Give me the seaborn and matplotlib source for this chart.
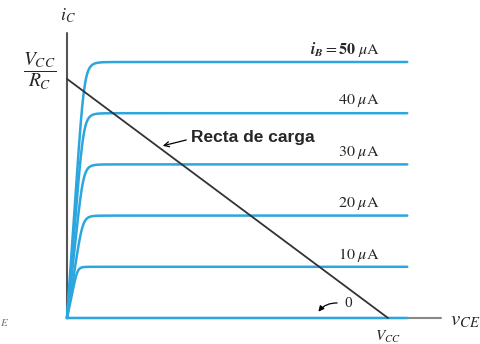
import numpy as np
import pandas as pd
import matplotlib
matplotlib.use("Agg")
import matplotlib.pyplot as plt
import seaborn as sns

# Base-current steps of the output family and their saturated collector currents
ib_uA = [0, 10, 20, 30, 40, 50]
ic_sat_mA = [0.0, 1.0, 2.0, 3.0, 4.0, 5.0]
knee_V = [0.30, 0.33, 0.50, 0.52, 0.53, 0.55]
curve_labels = ["", r"$10\ \mu\mathrm{A}$", r"$20\ \mu\mathrm{A}$", r"$30\ \mu\mathrm{A}$",
                r"$40\ \mu\mathrm{A}$", r"$\mathbfit{i}_{\mathbfit{B}} = \mathbf{50}\ \mu\mathrm{A}$"]

# Load line end points
vcc = 10.0
vcc_over_rc = 4.67
v_end = 10.6

sns.set_theme(style="white")
plt.rcParams["mathtext.fontset"] = "stix"
plt.rcParams["font.family"] = ["Liberation Serif", "DejaVu Serif"]

blue = "#2ba6de"
fig = plt.figure(figsize=(4.8, 3.44), dpi=100)
ax = fig.add_axes([0, 0, 1, 1])
ax.set_xlim(-2.087, 12.866)
ax.set_ylim(-0.508, 6.211)
ax.axis("off")

# Characteristic curves: linear rise from the origin with a rounded knee
v = np.linspace(0, v_end, 1500)
frames = []
for ib, isat, vk in zip(ib_uA, ic_sat_mA, knee_V):
    x = v / vk
    ic = isat * x / (1 + x ** 7) ** (1 / 7)
    frames.append(pd.DataFrame({"vce": v, "ic": ic, "ib": ib}))
df = pd.concat(frames, ignore_index=True)

# Axes drawn as plain lines
ax.plot([0, 0], [0, 5.57], color="#555555", lw=1.5, zorder=1)
ax.plot([0, 11.65], [0, 0], color="#888888", lw=1.5, zorder=1)

sns.lineplot(data=df, x="vce", y="ic", hue="ib", palette=[blue] * len(ib_uA),
             legend=False, lw=1.8, ax=ax, zorder=3, estimator=None, sort=False)

# Load line
ax.plot([0, vcc], [vcc_over_rc, 0], color="#333333", lw=1.3, zorder=4)

# Curve labels
for isat, lab in zip(ic_sat_mA[1:], curve_labels[1:]):
    ax.text(9.74, isat + 0.24, lab, ha="right", va="center", fontsize=11.5)

ax.text(0.03, 5.9, r"$i_C$", ha="center", va="center", fontsize=13)
ax.text(-0.85, 4.82, r"$\dfrac{V_{CC}}{R_C}$", ha="center", va="center", fontsize=14)
ax.text(vcc, -0.37, r"$V_{CC}$", ha="center", va="center", fontsize=11)
ax.text(11.93, -0.06, r"$v_{CE}$", ha="left", va="center", fontsize=15)
ax.text(-1.95, -0.08, r"$E$", ha="center", va="center", fontsize=8, color="#777777")

# Zero-current curve marker
ax.text(8.75, 0.29, "0", ha="center", va="center", fontsize=11)
ax.annotate("", xy=(7.78, 0.08), xytext=(8.5, 0.29),
            arrowprops=dict(arrowstyle="-|>", color="black", lw=0.9,
                            connectionstyle="arc3,rad=0.3", mutation_scale=8))

# Load line label
ax.text(3.85, 3.52, "Recta de carga", ha="left", va="center", fontsize=12.5,
        fontweight="heavy", family=["Liberation Sans", "DejaVu Sans"])
ax.annotate("", xy=(2.9, 3.35), xytext=(3.8, 3.49),
            arrowprops=dict(arrowstyle="->", color="black", lw=0.9, mutation_scale=9))

fig.savefig("out.png", dpi=100)
